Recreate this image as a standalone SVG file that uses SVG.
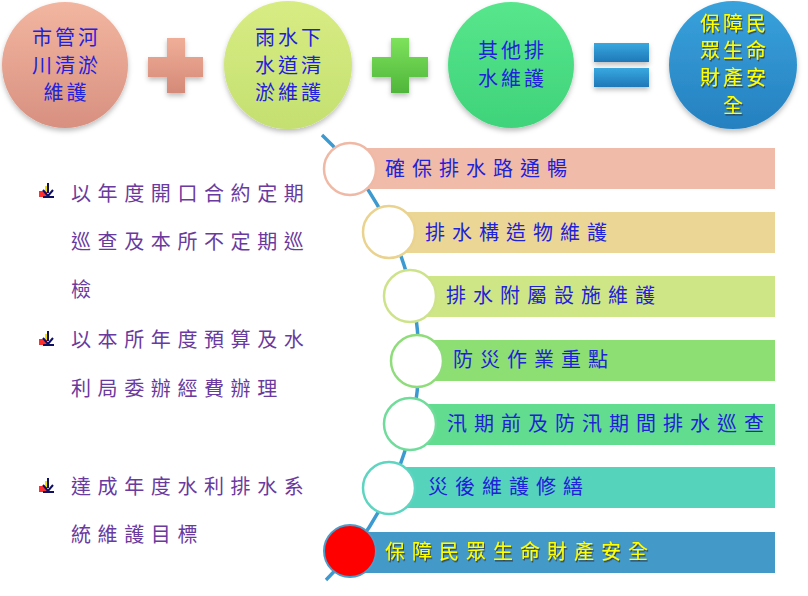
<svg xmlns="http://www.w3.org/2000/svg" width="808" height="596" viewBox="0 0 808 596">
<defs>
<filter id="sh" x="-20%" y="-20%" width="140%" height="150%"><feDropShadow dx="0" dy="3" stdDeviation="2.5" flood-color="#000" flood-opacity="0.25"/></filter>
<filter id="tsh" x="-10%" y="-20%" width="120%" height="150%"><feDropShadow dx="1" dy="1.5" stdDeviation="0.6" flood-color="#333" flood-opacity="0.8"/></filter>
<linearGradient id="g1" x1="0" y1="0" x2="0" y2="1"><stop offset="0" stop-color="#f2b6a0"/><stop offset="1" stop-color="#d89080"/></linearGradient>
<linearGradient id="g2" x1="0" y1="0" x2="0" y2="1"><stop offset="0" stop-color="#d8ec84"/><stop offset="1" stop-color="#c4e070"/></linearGradient>
<linearGradient id="g3" x1="0" y1="0" x2="0" y2="1"><stop offset="0" stop-color="#58e68c"/><stop offset="1" stop-color="#3fd37a"/></linearGradient>
<linearGradient id="g4" x1="0" y1="0" x2="0" y2="1"><stop offset="0" stop-color="#38a2dc"/><stop offset="1" stop-color="#2680c0"/></linearGradient>
<linearGradient id="gp1" x1="0" y1="0" x2="0" y2="1"><stop offset="0" stop-color="#f0ae98"/><stop offset="1" stop-color="#d48a78"/></linearGradient>
<linearGradient id="gp2" x1="0" y1="0" x2="0" y2="1"><stop offset="0" stop-color="#7ee25c"/><stop offset="1" stop-color="#4fb63a"/></linearGradient>
<linearGradient id="ge" x1="0" y1="0" x2="0" y2="1"><stop offset="0" stop-color="#38a8e0"/><stop offset="1" stop-color="#1f78b8"/></linearGradient>
</defs>
<style>
.ct{font-family:"Noto Sans CJK TC","Noto Sans CJK SC",sans-serif;font-size:20px;letter-spacing:3px;text-anchor:middle;fill:#2222dd}
.cy{fill:#ffff00}
.bt{font-family:"Noto Sans CJK TC","Noto Sans CJK SC",sans-serif;font-size:20px;letter-spacing:7px;fill:#1e22d8}
.by{fill:#ffff00}
.lt{font-family:"Noto Sans CJK TC","Noto Sans CJK SC",sans-serif;font-size:20px;letter-spacing:6.6px;fill:#6a3a9e}
.ring{fill:#ffffff;stroke-width:2.5}
</style>

<g id="top">
<g id="c1" filter="url(#sh)"><circle cx="65" cy="65" r="63" fill="url(#g1)"/></g>
<g id="c1t"><text class="ct" x="66.5" y="45">市管河</text><text class="ct" x="66.5" y="73">川清淤</text><text class="ct" x="66.5" y="100">維護</text></g>
<g id="plus1" filter="url(#sh)"><path d="M167 38H185V57H203V77H185V93H167V77H148V57H167Z" fill="url(#gp1)"/></g>
<g id="c2" filter="url(#sh)"><circle cx="288" cy="65" r="64" fill="url(#g2)"/></g>
<g id="c2t"><text class="ct" x="289.5" y="45">雨水下</text><text class="ct" x="289.5" y="73">水道清</text><text class="ct" x="289.5" y="100">淤維護</text></g>
<g id="plus2" filter="url(#sh)"><path d="M391 38H409V57H428V77H409V93H391V77H372V57H391Z" fill="url(#gp2)"/></g>
<g id="c3" filter="url(#sh)"><circle cx="511" cy="65" r="63" fill="url(#g3)"/></g>
<g id="c3t"><text class="ct" x="512.5" y="58">其他排</text><text class="ct" x="512.5" y="86">水維護</text></g>
<g id="equals" filter="url(#sh)"><rect x="594" y="43" width="55" height="19" fill="url(#ge)"/><rect x="594" y="68" width="55" height="19" fill="url(#ge)"/></g>
<g id="c4" filter="url(#sh)"><circle cx="733" cy="65" r="64" fill="url(#g4)"/></g>
<g id="c4t" filter="url(#tsh)"><text class="ct cy" x="734.5" y="31">保障民</text><text class="ct cy" x="734.5" y="58">眾生命</text><text class="ct cy" x="734.5" y="85">財產安</text><text class="ct cy" x="734.5" y="113">全</text></g>
</g>

<g id="connectors">
<path d="M322 135 A308.6 308.6 0 0 1 326 580" fill="none" stroke="#3d9ad0" stroke-width="3.5"/>
</g>

<g id="b1"><rect x="350" y="148" width="425" height="41" fill="#f0bba9"/><circle class="ring" cx="350" cy="169" r="26" stroke="#efb9a5"/><text class="bt" x="385" y="176">確保排水路通暢</text></g>
<g id="b2"><rect x="389" y="212" width="386" height="41" fill="#ebd695"/><circle class="ring" cx="389" cy="232" r="26" stroke="#ead28f"/><text class="bt" x="425" y="240">排水構造物維護</text></g>
<g id="b3"><rect x="410" y="276" width="365" height="41" fill="#cfe686"/><circle class="ring" cx="410" cy="296" r="26" stroke="#cde38a"/><text class="bt" x="446" y="303">排水附屬設施維護</text></g>
<g id="b4"><rect x="417" y="340" width="358" height="41" fill="#8ddf73"/><circle class="ring" cx="417" cy="361" r="26" stroke="#8edd7a"/><text class="bt" x="453" y="367">防災作業重點</text></g>
<g id="b5"><rect x="410" y="404" width="365" height="41" fill="#62dc8e"/><circle class="ring" cx="410" cy="424" r="26" stroke="#6fdc9a"/><text class="bt" x="447" y="431">汛期前及防汛期間排水巡查</text></g>
<g id="b6"><rect x="389" y="467" width="386" height="41" fill="#55d4bb"/><circle class="ring" cx="389" cy="488" r="26" stroke="#5dd5c0"/><text class="bt" x="428" y="494">災後維護修繕</text></g>
<g id="b7"><rect x="350" y="532" width="425" height="41" fill="#4399c8"/><circle cx="350" cy="551" r="26" fill="#ff0000" stroke="#4a9cc9" stroke-width="2"/><g filter="url(#tsh)"><text class="bt by" x="385" y="559">保障民眾生命財產安全</text></g></g>

<g id="left">
<g id="bul1"><rect x="39" y="191" width="8" height="6" fill="#ff3030"/><rect x="45" y="186" width="3" height="6" fill="#f0e000"/><path d="M48 183V193M43 190L48 196L53 190" fill="none" stroke="#101060" stroke-width="2"/><path d="M43 197H54" stroke="#101060" stroke-width="2"/></g>
<text class="lt" x="71" y="201">以年度開口合約定期</text>
<text class="lt" x="71" y="249">巡查及本所不定期巡</text>
<text class="lt" x="71" y="297">檢</text>
<g id="bul2"><rect x="39" y="339" width="8" height="6" fill="#ff3030"/><rect x="45" y="334" width="3" height="6" fill="#f0e000"/><path d="M48 331V341M43 338L48 344L53 338" fill="none" stroke="#101060" stroke-width="2"/><path d="M43 345H54" stroke="#101060" stroke-width="2"/></g>
<text class="lt" x="71" y="347">以本所年度預算及水</text>
<text class="lt" x="71" y="396">利局委辦經費辦理</text>
<g id="bul3"><rect x="39" y="486" width="8" height="6" fill="#ff3030"/><rect x="45" y="481" width="3" height="6" fill="#f0e000"/><path d="M48 478V488M43 485L48 491L53 485" fill="none" stroke="#101060" stroke-width="2"/><path d="M43 492H54" stroke="#101060" stroke-width="2"/></g>
<text class="lt" x="71" y="494">達成年度水利排水系</text>
<text class="lt" x="71" y="542">統維護目標</text>
</g>
</svg>
